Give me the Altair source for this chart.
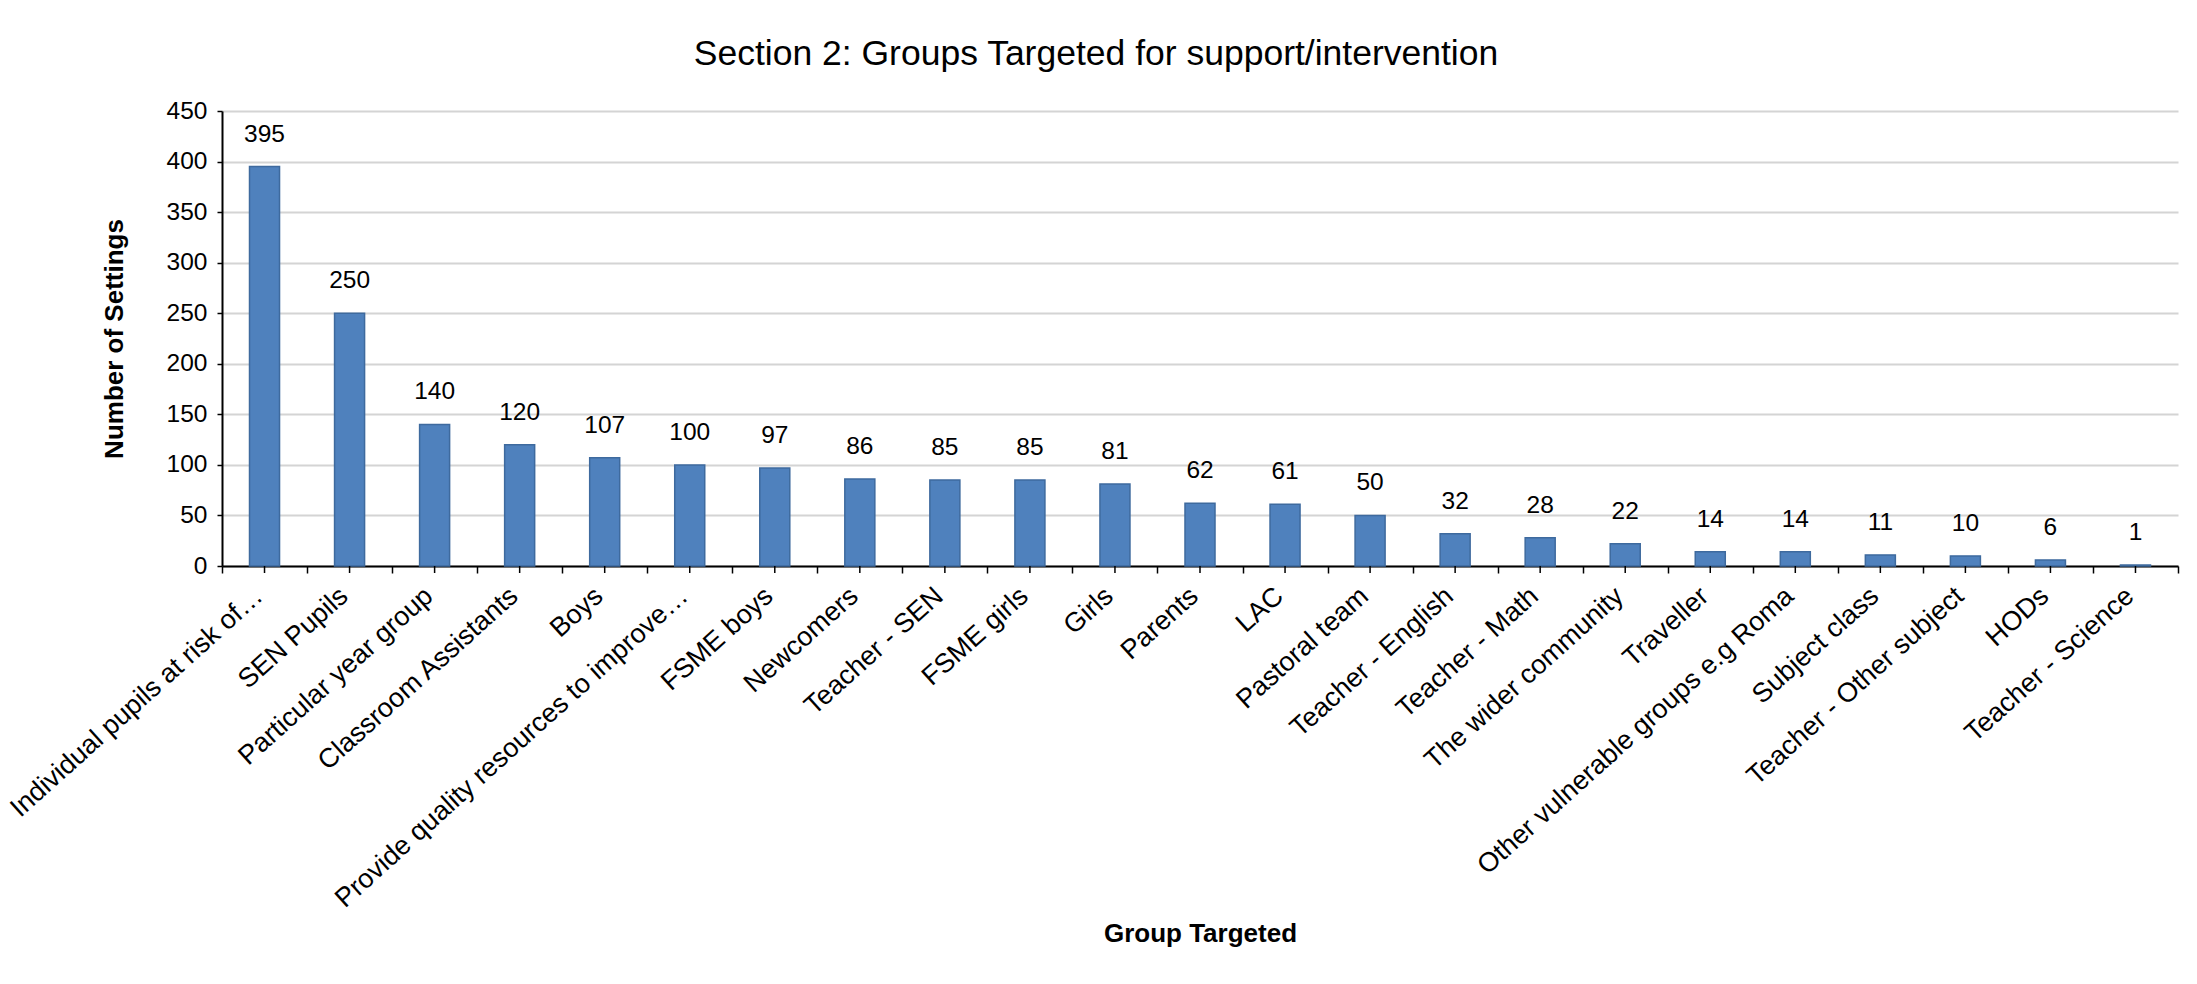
import altair as alt
import pandas as pd

categories = [
    "Individual pupils at risk of…",
    "SEN Pupils",
    "Particular year group",
    "Classroom Assistants",
    "Boys",
    "Provide quality resources to improve…",
    "FSME boys",
    "Newcomers",
    "Teacher - SEN",
    "FSME girls",
    "Girls",
    "Parents",
    "LAC",
    "Pastoral team",
    "Teacher - English",
    "Teacher - Math",
    "The wider community",
    "Traveller",
    "Other vulnerable groups e.g Roma",
    "Subject class",
    "Teacher - Other subject",
    "HODs",
    "Teacher - Science",
]
values = [395, 250, 140, 120, 107, 100, 97, 86, 85, 85, 81, 62, 61, 50, 32, 28, 22, 14, 14, 11, 10, 6, 1]
y_ticks = [0, 50, 100, 150, 200, 250, 300, 350, 400, 450]

df = pd.DataFrame({"group": categories, "count": values})

FONT = "Liberation Sans"
W, H = 1956, 455

x_enc = alt.X(
    "group:N",
    sort=categories,
    title="Group Targeted",
    scale=alt.Scale(paddingInner=0, paddingOuter=0),
    axis=alt.Axis(
        labelAngle=-42,
        labelAlign="right",
        labelBaseline="middle",
        labelPadding=19,
        labelOffset=-6,
        labelLimit=0,
        labelOverlap=False,
        labelFont=FONT,
        labelFontSize=27,
        labelColor="black",
        tickBand="extent",
        tickSize=7,
        tickColor="black",
        tickWidth=1.5,
        domainColor="black",
        domainWidth=2,
        titleFont=FONT,
        titleFontSize=26,
        titleFontWeight="bold",
        titleColor="black",
        titleY=375,
        titleBaseline="alphabetic",
    ),
)

y_enc = alt.Y(
    "count:Q",
    title="Number of Settings",
    scale=alt.Scale(domain=[0, 450], nice=False),
    axis=alt.Axis(
        values=y_ticks,
        tickSize=5,
        tickColor="black",
        tickWidth=1.5,
        domainColor="black",
        domainWidth=2,
        gridColor="#d4d4d4",
        gridWidth=2,
        labelFont=FONT,
        labelFontSize=24.5,
        labelColor="black",
        labelPadding=10,
        titleFont=FONT,
        titleFontSize=26,
        titleFontWeight="bold",
        titleColor="black",
        titleX=-100,
        titleY=H / 2,
        titleBaseline="alphabetic",
    ),
)

base = alt.Chart(df)

bars = base.mark_bar(
    width=alt.RelativeBandSize(0.353),
    color="#4F81BD",
    stroke="#3E6A9E",
    strokeWidth=1.5,
).encode(x=x_enc, y=y_enc)

labels = base.mark_text(
    dy=-25,
    baseline="alphabetic",
    font=FONT,
    fontSize=24.5,
    color="black",
).encode(x=alt.X("group:N", sort=categories), y="count:Q", text="count:Q")

center_ticks = base.mark_rule(color="black", strokeWidth=1.5).encode(
    x=alt.X("group:N", sort=categories),
    y=alt.value(H),
    y2=alt.value(H + 7),
)

chart = (
    alt.layer(bars, labels, center_ticks)
    .properties(
        width=W,
        height=H,
        autosize=alt.AutoSizeParams(type="none"),
        padding={"left": 222, "top": 111, "right": 19, "bottom": 418},
        title=alt.Title(
            "Section 2: Groups Targeted for support/intervention",
            font=FONT,
            fontSize=35.5,
            fontWeight="normal",
            color="black",
            anchor="middle",
            dx=-104,
            dy=3,
            baseline="alphabetic",
            offset=1,
        ),
        background="white",
    )
    .configure_view(stroke=None)
)

chart.save("out.html", embed_options={"renderer": "svg", "actions": False})
